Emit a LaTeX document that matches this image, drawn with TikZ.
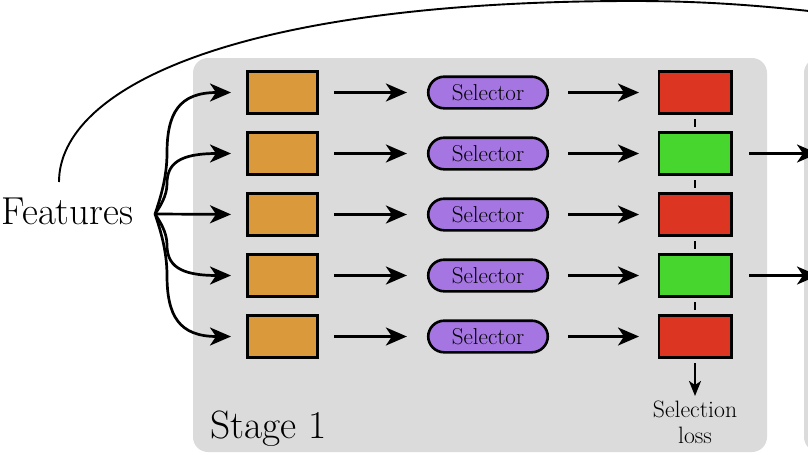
\documentclass[tikz,border=0pt]{standalone}
\usetikzlibrary{arrows.meta,calc}
\definecolor{panelgray}{RGB}{219,219,219}
\definecolor{boxorange}{RGB}{218,154,60}
\definecolor{selpurple}{RGB}{165,117,225}
\definecolor{boxred}{RGB}{220,53,34}
\definecolor{boxgreen}{RGB}{70,214,46}
\begin{document}
\begin{tikzpicture}[x=1pt,y=-1pt,
  panel/.style={fill=panelgray, rounded corners=15pt},
  featbox/.style={draw=black, line width=2.6pt, fill=boxorange, minimum width=70.4pt, minimum height=42.4pt, inner sep=0pt},
  selbox/.style={draw=black, line width=2.6pt, fill=selpurple, rounded corners=16pt, minimum width=119.6pt, minimum height=31.6pt, inner sep=0pt, font=\fontsize{23}{26}\selectfont},
  choicebox/.style={draw=black, line width=2.6pt, minimum width=72.4pt, minimum height=42.4pt, inner sep=0pt},
  arr/.style={line width=2.7pt, -{Stealth[length=21pt,width=18pt,inset=6pt]}},
  smallarr/.style={line width=2.2pt, -{Stealth[length=15pt,width=12pt,inset=4pt]}},
  link/.style={line width=2.2pt, shorten <=4pt, shorten >=4pt},
  curve/.style={line width=1.9pt},
]
\useasboundingbox (0,0) rectangle (808,455);
\clip (0,0) rectangle (808,455);

% panels
\fill[panel] (193,58) rectangle (767,452);
\fill[panel] (804,58) rectangle (1100,452);

% text nodes
\node[font=\fontsize{39}{44}\selectfont, anchor=base east, inner sep=0pt] (feat) at (133.5,224) {Features};
\node[font=\fontsize{39.5}{44}\selectfont, anchor=base west, inner sep=0pt] (stage) at (210,438) {Stage 1};
\node[font=\fontsize{23.7}{26}\selectfont, align=center, anchor=north, inner sep=0pt] (loss) at (695,401) {Selection\\loss};

% long curve
\coordinate (cstart) at (59,182);
\coordinate (peak) at (633,1);
\coordinate (far) at (835,14);
\draw[curve] (cstart) .. controls +(0,-92) and +(-403,0) .. (peak) .. controls +(67,0) and +(-75,-9) .. (far);

% rows
\foreach \i/\col in {1/boxred,2/boxgreen,3/boxred,4/boxgreen,5/boxred} {
  \pgfmathsetmacro\yy{92.5+61*(\i-1)}
  \node[featbox] (o\i) at (282.5,\yy) {};
  \node[selbox] (s\i) at (488,\yy) {Selector};
  \node[choicebox, fill=\col] (c\i) at (695,\yy) {};
  \coordinate (n\i) at (818,\yy);
  \draw[arr, shorten <=15pt, shorten >=20pt] (o\i.east) -- (s\i.west);
  \draw[arr, shorten <=19pt, shorten >=18.5pt] (s\i.east) -- (c\i.west);
}
\foreach \i/\j in {1/2,2/3,3/4,4/5} {
  \draw[link] (c\i.south) -- (c\j.north);
}
\foreach \i in {2,4} {
  \draw[arr, shorten <=16.5pt] (c\i.east) -- (n\i);
}
\draw[smallarr, shorten <=4pt, shorten >=5pt] (c5.south) -- (loss.north);

% fan from features
\coordinate (fan) at (155,214);
\draw[arr, shorten >=15pt] (fan) -- (o3.west);
\foreach \i in {1,2,4,5} {
  \pgfmathsetmacro\d{92.5+61*(\i-1)-214}
  \pgfmathsetmacro\da{0.12*\d}
  \pgfmathsetmacro\db{-0.2*\d}
  \pgfmathsetmacro\dc{0.5*\d}
  \pgfmathsetmacro\dd{0.33*\d}
  \draw[arr] (fan) .. controls +(5,\da) and +(0,\db) .. ++(12,\dc)
     .. controls +(0,\dd) and +(-52,0) .. ($(o\i.west)+(-15,0)$);
}
\end{tikzpicture}
\end{document}
